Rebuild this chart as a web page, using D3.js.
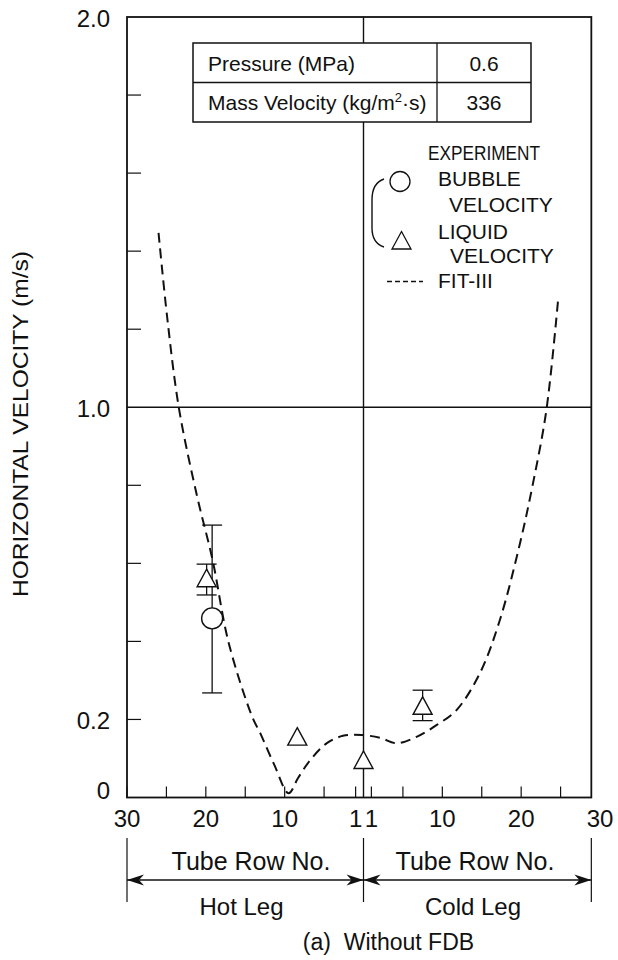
<!DOCTYPE html>
<html><head><meta charset="utf-8">
<script src="https://cdn.jsdelivr.net/npm/d3@7"></script>
<style>
body{margin:0;background:#fff}
svg{display:block}
text{font-family:"Liberation Sans",Arial,Helvetica,sans-serif;fill:#111}
</style>
</head><body><svg id="c" width="618" height="960"></svg>
<script>
// ---- data ----
const yTicks = [0.2, 0.4, 0.6, 0.8, 1.2, 1.4, 1.6, 1.8];
const yLabels = [0, 0.2, 1.0, 2.0];
const hotTicks = [30, 25, 20, 15, 10, 5, 1];
const coldTicks = [1, 5, 10, 15, 20, 25];
const hotLabels = [30, 20, 10, 1];
const coldLabels = [1, 10, 20, 30];
// signed tube-row position: negative = hot leg, positive = cold leg
const fitPos = [-26.0, -24.9, -23.4, -21.1, -19.15, -17.1, -14.1, -13.1, -11.3, -9.5, -8.3, -6.75, -4.6, -2.6, -0.2, 2.1, 4.2, 6.8, 9.3, 11.8, 14.8, 17.3, 19.8, 21.5, 23.2, 24.7];
const fitVal = [1.447, 1.23, 0.996, 0.771, 0.609, 0.396, 0.206, 0.165, 0.083, 0.011, 0.05, 0.096, 0.14, 0.158, 0.160, 0.153, 0.139, 0.156, 0.186, 0.224, 0.32, 0.455, 0.647, 0.805, 0.993, 1.279];
const bubblePos = [-19.2];
const bubbleVal = [0.459];
const bubbleLo = [0.268];
const bubbleHi = [0.698];
const liquidPos = [-19.9, -8.4, 0, 7.5];
const liquidVal = [0.562, 0.156, 0.096, 0.235];
const liquidLo = [0.519, null, null, 0.197];
const liquidHi = [0.598, null, null, 0.275];
const tableLabels = ["Pressure (MPa)", "Mass Velocity (kg/m"];
const tableValues = ["0.6", "336"];

// ---- layout ----
const svg = d3.select("#c");
const x = d3.scaleLinear().domain([-30, 30]).range([127, 600]);
const y = d3.scaleLinear().domain([0, 2]).range([797.5, 17]);
const xL = x(-30), xR = x(28.9), yT = y(2), yB = y(0);
const ink = "#111";

// grid lines
svg.append("line").attr("x1", xL).attr("x2", xR).attr("y1", y(1)).attr("y2", y(1)).attr("stroke", ink).attr("stroke-width", 1.4);
svg.append("line").attr("x1", x(0)).attr("x2", x(0)).attr("y1", yT).attr("y2", yB).attr("stroke", ink).attr("stroke-width", 1.4);

// y ticks
svg.selectAll(".yt").data(yTicks).join("line")
  .attr("x1", xL).attr("x2", xL + 14).attr("y1", d => y(d)).attr("y2", d => y(d))
  .attr("stroke", ink).attr("stroke-width", 1.2);
svg.selectAll(".yl").data(yLabels).join("text")
  .attr("x", 110).attr("y", d => d === 0 ? y(d) + 1 : y(d) + 10)
  .attr("text-anchor", "end").attr("font-size", 24)
  .text(d => d === 0 ? "0" : d.toFixed(1));

// x ticks
const xt = hotTicks.map(r => -r).concat(coldTicks);
svg.selectAll(".xt").data(xt).join("line")
  .attr("x1", d => x(d)).attr("x2", d => x(d)).attr("y1", yB).attr("y2", yB - 11)
  .attr("stroke", ink).attr("stroke-width", 1.2);
const xl = hotLabels.map(r => ({p: -r, t: r})).concat(coldLabels.map(r => ({p: r, t: r})));
svg.selectAll(".xl").data(xl).join("text")
  .attr("x", d => x(d.p)).attr("y", 827).attr("text-anchor", "middle").attr("font-size", 24)
  .text(d => d.t);

// y title
svg.append("text").attr("transform", "translate(28,424) rotate(-90)")
  .attr("text-anchor", "middle").attr("font-size", 22)
  .attr("textLength", 346).attr("lengthAdjust", "spacingAndGlyphs")
  .text("HORIZONTAL VELOCITY (m/s)");

// table
const tb = {x0: 193, x1: 531, y0: 43, y1: 122, xc: 437};
const rh = (tb.y1 - tb.y0) / 2;
svg.append("rect").attr("x", tb.x0).attr("y", tb.y0).attr("width", tb.x1 - tb.x0).attr("height", tb.y1 - tb.y0)
  .attr("fill", "#fff").attr("stroke", ink).attr("stroke-width", 1.5);
svg.append("line").attr("x1", tb.x0).attr("x2", tb.x1).attr("y1", tb.y0 + rh).attr("y2", tb.y0 + rh).attr("stroke", ink).attr("stroke-width", 1.3);
svg.append("line").attr("x1", tb.xc).attr("x2", tb.xc).attr("y1", tb.y0).attr("y2", tb.y1).attr("stroke", ink).attr("stroke-width", 1.3);
tableLabels.forEach((t, i) => {
  const tx = svg.append("text").attr("x", 208).attr("y", tb.y0 + rh * i + rh / 2 + 8).attr("font-size", 21).text(t);
  if (i === 1) {
    tx.append("tspan").attr("font-size", 13).attr("dy", -8).text("2");
    tx.append("tspan").attr("dy", 8).text("·s)");
  }
  svg.append("text").attr("x", (tb.xc + tb.x1) / 2).attr("y", tb.y0 + rh * i + rh / 2 + 8)
    .attr("text-anchor", "middle").attr("font-size", 21).text(tableValues[i]);
});

// fit curve
const fit = fitPos.map((p, i) => [p, fitVal[i]]);
svg.append("path").datum(fit)
  .attr("d", d3.line().x(d => x(d[0])).y(d => y(d[1])).curve(d3.curveCatmullRom.alpha(0.5)))
  .attr("fill", "none").attr("stroke", ink).attr("stroke-width", 2).attr("stroke-dasharray", "10,6");

// error bars
function errBar(p, lo, hi) {
  const g = svg.append("g").attr("stroke", ink).attr("stroke-width", 1.3);
  g.append("line").attr("x1", x(p)).attr("x2", x(p)).attr("y1", y(lo)).attr("y2", y(hi));
  g.append("line").attr("x1", x(p) - 10).attr("x2", x(p) + 10).attr("y1", y(lo)).attr("y2", y(lo));
  g.append("line").attr("x1", x(p) - 10).attr("x2", x(p) + 10).attr("y1", y(hi)).attr("y2", y(hi));
}
bubblePos.forEach((p, i) => errBar(p, bubbleLo[i], bubbleHi[i]));
liquidPos.forEach((p, i) => { if (liquidLo[i] != null) errBar(p, liquidLo[i], liquidHi[i]); });

const triPath = (cx, cy) => `M${cx},${cy - 9}L${cx + 9.5},${cy + 8.5}L${cx - 9.5},${cy + 8.5}Z`;
svg.selectAll(".bub").data(bubblePos).join("circle")
  .attr("cx", d => x(d)).attr("cy", (d, i) => y(bubbleVal[i])).attr("r", 10.5)
  .attr("fill", "#fff").attr("stroke", ink).attr("stroke-width", 1.4);
svg.selectAll(".liq").data(liquidPos).join("path")
  .attr("d", (d, i) => triPath(x(d), y(liquidVal[i])))
  .attr("fill", "#fff").attr("stroke", ink).attr("stroke-width", 1.4);

// frame
svg.append("rect").attr("x", xL).attr("y", yT).attr("width", xR - xL).attr("height", yB - yT)
  .attr("fill", "none").attr("stroke", ink).attr("stroke-width", 1.8);

// legend
svg.append("text").attr("x", 428).attr("y", 160).attr("font-size", 20)
  .attr("textLength", 112).attr("lengthAdjust", "spacingAndGlyphs").text("EXPERIMENT");
svg.append("circle").attr("cx", 400).attr("cy", 181.5).attr("r", 10).attr("fill", "none").attr("stroke", ink).attr("stroke-width", 1.3);
svg.append("path").attr("d", triPath(401.5, 240.5)).attr("fill", "none").attr("stroke", ink).attr("stroke-width", 1.3);
svg.append("path").attr("d", "M384,179 Q372,183 372,200 L372,228 Q372,243 384,247").attr("fill", "none").attr("stroke", ink).attr("stroke-width", 1.4);
const legT = [["BUBBLE", 438, 186], ["VELOCITY", 449, 212], ["LIQUID", 438, 239], ["VELOCITY", 450, 263], ["FIT-III", 438, 288]];
legT.forEach(d => svg.append("text").attr("x", d[1]).attr("y", d[2]).attr("font-size", 21).text(d[0]));
svg.append("line").attr("x1", 387).attr("x2", 423).attr("y1", 281.5).attr("y2", 281.5)
  .attr("stroke", ink).attr("stroke-width", 1.3).attr("stroke-dasharray", "5,3");

// dimension lines
[xL, x(0), xR].forEach(v => svg.append("line").attr("x1", v).attr("x2", v).attr("y1", 838).attr("y2", 902).attr("stroke", ink).attr("stroke-width", 1.2));
const ay = 880;
function arrowLine(a, b) {
  svg.append("line").attr("x1", a).attr("x2", b).attr("y1", ay).attr("y2", ay).attr("stroke", ink).attr("stroke-width", 1.3);
  svg.append("path").attr("d", `M${a},${ay}L${a + 17},${ay - 5.5}L${a + 12},${ay}L${a + 17},${ay + 5.5}Z`).attr("fill", ink);
  svg.append("path").attr("d", `M${b},${ay}L${b - 17},${ay - 5.5}L${b - 12},${ay}L${b - 17},${ay + 5.5}Z`).attr("fill", ink);
}
arrowLine(xL, x(0));
arrowLine(x(0), xR);
svg.append("text").attr("x", 251).attr("y", 870).attr("text-anchor", "middle").attr("font-size", 25).text("Tube Row No.");
svg.append("text").attr("x", 475).attr("y", 870).attr("text-anchor", "middle").attr("font-size", 25).text("Tube Row No.");
svg.append("text").attr("x", 241.5).attr("y", 915).attr("text-anchor", "middle").attr("font-size", 24).text("Hot Leg");
svg.append("text").attr("x", 473).attr("y", 915).attr("text-anchor", "middle").attr("font-size", 24).text("Cold Leg");
svg.append("text").attr("x", 388.5).attr("y", 950).attr("text-anchor", "middle").attr("font-size", 23).attr("xml:space", "preserve").text("(a)  Without FDB");
</script>
</body></html>
